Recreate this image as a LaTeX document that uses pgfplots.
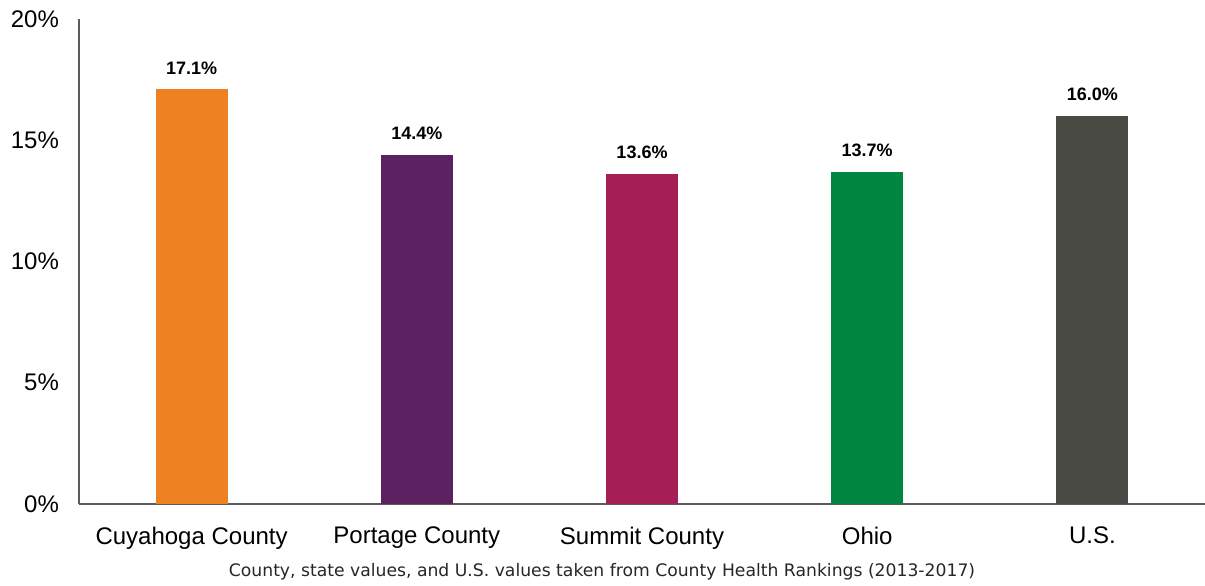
\documentclass[border=0pt]{standalone}
\usepackage{fontspec}
\setmainfont{Liberation Sans}
\newfontfamily\notefont{DejaVu Sans}
\usepackage{pgfplots}
\pgfplotsset{compat=1.18}

\definecolor{cuy}{RGB}{238,130,34}
\definecolor{por}{RGB}{92,33,97}
\definecolor{sum}{RGB}{165,31,86}
\definecolor{ohi}{RGB}{0,134,65}
\definecolor{usa}{RGB}{74,74,68}
\definecolor{axgray}{RGB}{90,90,95}

\begin{document}
\begin{tikzpicture}
\begin{axis}[
    scale only axis,
    width=563pt, height=242.5pt,
    xmin=-0.5, xmax=4.5,
    ymin=0, ymax=20,
    axis lines=left,
    axis line style={-, axgray, line width=1pt},
    xtick={0,1,2,3,4},
    xticklabels={Cuyahoga County, Portage County, Summit County, Ohio, U.S.},
    ytick={0,5,10,15,20},
    yticklabels={0\%,5\%,10\%,15\%,20\%},
    major tick length=0pt,
    tick label style={font=\fontsize{12}{14}\selectfont},
    xticklabel style={yshift=-8pt},
    yticklabel style={xshift=-6.5pt},
    /pgf/number format/assume math mode=true,
    ybar, bar width=36pt,
    bar shift=0pt,
    nodes near coords={\pgfmathprintnumber[fixed,fixed zerofill,precision=1]{\pgfplotspointmeta}\%},
    every node near coord/.append style={font=\bfseries\fontsize{9}{10}\selectfont, yshift=4pt, text=black},
    clip=false,
]
\addplot[draw=none, fill=cuy] coordinates {(0,17.1)};
\addplot[draw=none, fill=por] coordinates {(1,14.4)};
\addplot[draw=none, fill=sum] coordinates {(2,13.6)};
\addplot[draw=none, fill=ohi] coordinates {(3,13.7)};
\addplot[draw=none, fill=usa] coordinates {(4,16.0)};
\end{axis}
\node[font=\notefont\fontsize{8.6}{10}\selectfont, text=black!85] at ([xshift=-20pt, yshift=-34pt]current axis.south) {County, state values, and U.S. values taken from County Health Rankings (2013-2017)};
\pgfresetboundingbox
\path[use as bounding box] ([xshift=-39.5pt, yshift=-40.5pt]current axis.south west) rectangle ([yshift=9.5pt]current axis.north east);
\end{tikzpicture}
\end{document}
